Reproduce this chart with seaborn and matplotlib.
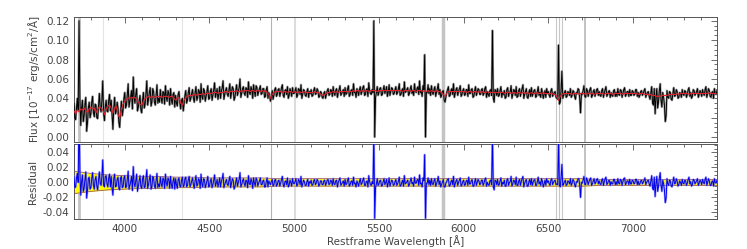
import numpy as np
import seaborn as sns
import matplotlib.pyplot as plt
from matplotlib.ticker import MultipleLocator, FormatStrFormatter

# observed flux, read off the plot (10^-17 erg/s/cm2/A)
# flux_a: pixels at 3700, 3710, ... ; flux_b: pixels at 3705, 3715, ...
flux_a = [
    0.035, 0.018, 0.040, 0.120, 0.012, 0.038, 0.022, 0.041, 0.015, 0.036,
    0.024, 0.042, 0.021, 0.033, 0.019, 0.045, 0.026, 0.058, 0.017, 0.038,
    0.026, 0.044, 0.038, 0.008, 0.041, 0.027, 0.030, 0.010, 0.037, 0.028,
    0.046, 0.033, 0.055, 0.037, 0.048, 0.062, 0.035, 0.050, 0.031, 0.043,
    0.025, 0.046, 0.034, 0.058, 0.039, 0.051, 0.036, 0.047, 0.033, 0.054,
    0.040, 0.049, 0.035, 0.046, 0.053, 0.037, 0.045, 0.050, 0.034, 0.046,
    0.043, 0.032, 0.047, 0.029, 0.040, 0.034, 0.048, 0.038, 0.051, 0.040,
    0.049, 0.036, 0.052, 0.041, 0.047, 0.055, 0.039, 0.048, 0.042, 0.053,
    0.040, 0.050, 0.043, 0.056, 0.045, 0.039, 0.052, 0.047, 0.058, 0.044,
    0.051, 0.042, 0.055, 0.046, 0.050, 0.041, 0.054, 0.047, 0.060, 0.045,
    0.052, 0.043, 0.050, 0.057, 0.044, 0.049, 0.054, 0.042, 0.051, 0.047,
    0.053, 0.045, 0.050, 0.042, 0.052, 0.046, 0.037, 0.048, 0.043, 0.051,
    0.044, 0.050, 0.046, 0.054, 0.041, 0.049, 0.052, 0.043, 0.047, 0.051,
    0.045, 0.051, 0.043, 0.049, 0.054, 0.044, 0.048, 0.042, 0.050, 0.047,
    0.049, 0.043, 0.051, 0.045, 0.048, 0.042, 0.046, 0.040, 0.047, 0.044,
    0.050, 0.044, 0.048, 0.052, 0.043, 0.050, 0.046, 0.053, 0.045, 0.049,
    0.051, 0.045, 0.053, 0.044, 0.049, 0.055, 0.046, 0.050, 0.043, 0.052,
    0.047, 0.053, 0.044, 0.050, 0.056, 0.045, 0.049, 0.120, 0.041, 0.052,
    0.046, 0.051, 0.044, 0.053, 0.048, 0.042, 0.054, 0.047, 0.050, 0.045,
    0.052, 0.046, 0.055, 0.044, 0.050, 0.057, 0.047, 0.051, 0.045, 0.053,
    0.048, 0.055, 0.046, 0.052, 0.058, 0.047, 0.053, 0.085, 0.046, 0.054,
    0.050, 0.053, 0.044, 0.052, 0.046, 0.055, 0.049, 0.043, 0.048, 0.036,
    0.046, 0.052, 0.043, 0.050, 0.055, 0.045, 0.051, 0.047, 0.053, 0.044,
    0.050, 0.044, 0.049, 0.054, 0.045, 0.050, 0.042, 0.052, 0.046, 0.049,
    0.044, 0.050, 0.045, 0.052, 0.047, 0.042, 0.049, 0.110, 0.036, 0.048,
    0.050, 0.043, 0.052, 0.046, 0.048, 0.041, 0.051, 0.046, 0.053, 0.044,
    0.048, 0.052, 0.042, 0.050, 0.046, 0.054, 0.044, 0.050, 0.040, 0.049,
    0.051, 0.045, 0.049, 0.042, 0.052, 0.046, 0.050, 0.040, 0.048, 0.050,
    0.047, 0.041, 0.050, 0.044, 0.047, 0.040, 0.095, 0.036, 0.068, 0.043,
    0.048, 0.042, 0.046, 0.050, 0.043, 0.047, 0.039, 0.045, 0.049, 0.025,
    0.044, 0.053, 0.041, 0.048, 0.046, 0.051, 0.043, 0.049, 0.045, 0.050,
    0.047, 0.042, 0.050, 0.045, 0.052, 0.044, 0.048, 0.046, 0.042, 0.049,
    0.046, 0.050, 0.043, 0.048, 0.045, 0.051, 0.044, 0.047, 0.049, 0.043,
    0.047, 0.044, 0.049, 0.046, 0.043, 0.048, 0.045, 0.050, 0.044, 0.047,
    0.039, 0.052, 0.033, 0.024, 0.050, 0.036, 0.055, 0.031, 0.041, 0.016,
    0.048, 0.040, 0.046, 0.038, 0.051, 0.043, 0.047, 0.041, 0.045, 0.049,
    0.043, 0.047, 0.044, 0.051, 0.046, 0.042, 0.048, 0.045, 0.050, 0.044,
    0.046, 0.049, 0.043, 0.052, 0.045, 0.048, 0.041, 0.047, 0.050, 0.044,
]
flux_b = [
    0.020, 0.030, 0.028, 0.040, 0.030, 0.016, 0.034, 0.006, 0.030, 0.020,
    0.036, 0.025, 0.034, 0.020, 0.032, 0.030, 0.038, 0.024, 0.031, 0.027,
    0.038, 0.027, 0.022, 0.030, 0.024, 0.036, 0.015, 0.026, 0.022, 0.040,
    0.030, 0.044, 0.031, 0.042, 0.029, 0.040, 0.044, 0.027, 0.038, 0.028,
    0.038, 0.030, 0.045, 0.033, 0.046, 0.032, 0.050, 0.036, 0.044, 0.035,
    0.036, 0.040, 0.047, 0.034, 0.041, 0.048, 0.033, 0.039, 0.044, 0.031,
    0.035, 0.044, 0.036, 0.038, 0.027, 0.043, 0.035, 0.046, 0.037, 0.045,
    0.040, 0.046, 0.038, 0.049, 0.036, 0.042, 0.050, 0.037, 0.047, 0.039,
    0.047, 0.038, 0.049, 0.041, 0.050, 0.044, 0.040, 0.051, 0.039, 0.048,
    0.044, 0.049, 0.040, 0.052, 0.038, 0.048, 0.043, 0.051, 0.041, 0.050,
    0.045, 0.051, 0.041, 0.046, 0.052, 0.040, 0.047, 0.053, 0.043, 0.050,
    0.044, 0.050, 0.041, 0.049, 0.040, 0.043, 0.041, 0.039, 0.049, 0.042,
    0.049, 0.042, 0.051, 0.043, 0.048, 0.044, 0.040, 0.050, 0.042, 0.045,
    0.048, 0.041, 0.050, 0.044, 0.040, 0.049, 0.043, 0.047, 0.041, 0.045,
    0.042, 0.048, 0.044, 0.050, 0.041, 0.047, 0.041, 0.045, 0.040, 0.048,
    0.043, 0.049, 0.042, 0.045, 0.048, 0.041, 0.049, 0.043, 0.047, 0.042,
    0.044, 0.050, 0.042, 0.048, 0.043, 0.046, 0.041, 0.047, 0.049, 0.044,
    0.051, 0.043, 0.049, 0.042, 0.048, 0.044, 0.046, 0.000, 0.046, 0.043,
    0.050, 0.043, 0.049, 0.045, 0.052, 0.047, 0.043, 0.051, 0.044, 0.049,
    0.044, 0.050, 0.043, 0.048, 0.042, 0.046, 0.049, 0.043, 0.050, 0.045,
    0.043, 0.047, 0.050, 0.044, 0.046, 0.042, 0.049, 0.000, 0.046, 0.045,
    0.043, 0.046, 0.049, 0.042, 0.050, 0.044, 0.041, 0.047, 0.038, 0.041,
    0.049, 0.042, 0.048, 0.044, 0.041, 0.049, 0.043, 0.050, 0.042, 0.048,
    0.043, 0.049, 0.042, 0.045, 0.049, 0.041, 0.048, 0.043, 0.050, 0.044,
    0.049, 0.043, 0.050, 0.041, 0.044, 0.048, 0.043, 0.040, 0.049, 0.043,
    0.042, 0.048, 0.041, 0.044, 0.040, 0.049, 0.042, 0.047, 0.040, 0.049,
    0.043, 0.041, 0.048, 0.042, 0.050, 0.040, 0.047, 0.041, 0.046, 0.042,
    0.042, 0.048, 0.041, 0.047, 0.043, 0.041, 0.046, 0.044, 0.041, 0.045,
    0.043, 0.048, 0.042, 0.046, 0.041, 0.039, 0.034, 0.048, 0.040, 0.046,
    0.041, 0.047, 0.043, 0.041, 0.048, 0.042, 0.046, 0.050, 0.040, 0.045,
    0.048, 0.042, 0.050, 0.042, 0.049, 0.041, 0.047, 0.042, 0.049, 0.043,
    0.043, 0.048, 0.041, 0.049, 0.042, 0.047, 0.041, 0.043, 0.048, 0.042,
    0.042, 0.044, 0.049, 0.041, 0.049, 0.042, 0.047, 0.042, 0.043, 0.048,
    0.043, 0.049, 0.042, 0.041, 0.047, 0.043, 0.048, 0.041, 0.046, 0.042,
    0.046, 0.035, 0.050, 0.041, 0.030, 0.048, 0.038, 0.046, 0.033, 0.022,
    0.041, 0.047, 0.039, 0.045, 0.042, 0.049, 0.040, 0.046, 0.041, 0.044,
    0.048, 0.041, 0.049, 0.042, 0.040, 0.049, 0.043, 0.047, 0.041, 0.048,
    0.042, 0.045, 0.049, 0.041, 0.050, 0.042, 0.046, 0.040, 0.045, 0.048,
]

# stellar population model (red line), one value per 10 A bin starting at 3700
model = [
    0.027, 0.024, 0.028, 0.026, 0.029, 0.028, 0.030, 0.027, 0.025, 0.029,
    0.031, 0.029, 0.030, 0.025, 0.029, 0.031, 0.030, 0.028, 0.023, 0.029,
    0.032, 0.033, 0.030, 0.025, 0.030, 0.032, 0.023, 0.020, 0.029, 0.034,
    0.037, 0.039, 0.040, 0.041, 0.040, 0.041, 0.041, 0.039, 0.036, 0.034,
    0.033, 0.037, 0.040, 0.041, 0.042, 0.041, 0.042, 0.041, 0.041, 0.042,
    0.042, 0.042, 0.041, 0.042, 0.042, 0.042, 0.041, 0.042, 0.042, 0.040,
    0.038, 0.040, 0.041, 0.035, 0.033, 0.038, 0.041, 0.042, 0.043, 0.043,
    0.043, 0.044, 0.043, 0.044, 0.044, 0.044, 0.045, 0.044, 0.045, 0.045,
    0.045, 0.045, 0.046, 0.046, 0.046, 0.045, 0.046, 0.046, 0.046, 0.047,
    0.047, 0.046, 0.047, 0.047, 0.047, 0.047, 0.048, 0.047, 0.047, 0.048,
    0.047, 0.048, 0.048, 0.048, 0.047, 0.048, 0.048, 0.047, 0.048, 0.048,
    0.047, 0.048, 0.047, 0.048, 0.046, 0.044, 0.040, 0.044, 0.046, 0.047,
    0.047, 0.047, 0.047, 0.046, 0.047, 0.047, 0.046, 0.047, 0.047, 0.046,
    0.047, 0.046, 0.046, 0.047, 0.046, 0.046, 0.047, 0.046, 0.046, 0.046,
    0.046, 0.046, 0.047, 0.046, 0.046, 0.045, 0.044, 0.043, 0.044, 0.045,
    0.046, 0.046, 0.046, 0.047, 0.046, 0.047, 0.046, 0.047, 0.047, 0.047,
    0.047, 0.047, 0.047, 0.047, 0.047, 0.048, 0.047, 0.048, 0.048, 0.047,
    0.048, 0.047, 0.048, 0.048, 0.047, 0.048, 0.048, 0.048, 0.048, 0.047,
    0.048, 0.048, 0.048, 0.048, 0.048, 0.048, 0.048, 0.048, 0.048, 0.048,
    0.048, 0.048, 0.048, 0.048, 0.047, 0.048, 0.048, 0.048, 0.048, 0.047,
    0.048, 0.048, 0.047, 0.048, 0.048, 0.048, 0.047, 0.048, 0.047, 0.048,
    0.047, 0.048, 0.047, 0.047, 0.048, 0.047, 0.047, 0.046, 0.044, 0.042,
    0.045, 0.047, 0.047, 0.047, 0.047, 0.047, 0.047, 0.047, 0.047, 0.047,
    0.047, 0.047, 0.046, 0.047, 0.047, 0.046, 0.047, 0.047, 0.046, 0.047,
    0.046, 0.047, 0.046, 0.046, 0.047, 0.046, 0.046, 0.046, 0.046, 0.046,
    0.046, 0.046, 0.046, 0.046, 0.045, 0.046, 0.046, 0.046, 0.045, 0.046,
    0.046, 0.045, 0.046, 0.046, 0.045, 0.046, 0.045, 0.046, 0.045, 0.045,
    0.046, 0.045, 0.045, 0.046, 0.045, 0.045, 0.045, 0.046, 0.045, 0.045,
    0.045, 0.045, 0.045, 0.044, 0.044, 0.042, 0.038, 0.042, 0.044, 0.045,
    0.045, 0.045, 0.045, 0.045, 0.044, 0.045, 0.045, 0.045, 0.044, 0.045,
    0.045, 0.045, 0.044, 0.045, 0.045, 0.045, 0.045, 0.044, 0.045, 0.045,
    0.045, 0.045, 0.045, 0.044, 0.045, 0.045, 0.045, 0.045, 0.044, 0.045,
    0.045, 0.045, 0.045, 0.045, 0.044, 0.045, 0.045, 0.045, 0.045, 0.045,
    0.045, 0.045, 0.045, 0.044, 0.045, 0.045, 0.045, 0.044, 0.044, 0.044,
    0.044, 0.043, 0.043, 0.043, 0.042, 0.042, 0.042, 0.043, 0.043, 0.043,
    0.043, 0.044, 0.044, 0.044, 0.044, 0.044, 0.045, 0.044, 0.045, 0.045,
    0.045, 0.045, 0.045, 0.044, 0.045, 0.045, 0.045, 0.045, 0.045, 0.045,
    0.045, 0.045, 0.045, 0.045, 0.045, 0.046, 0.045, 0.045, 0.045, 0.045,
]

# flux error (yellow band in residual panel), every 100 A
err = [0.015, 0.012, 0.010, 0.009, 0.008, 0.008, 0.007, 0.007, 0.006, 0.006,
       0.006, 0.006, 0.005, 0.005, 0.005, 0.005, 0.005, 0.005, 0.005, 0.005,
       0.005, 0.005, 0.005, 0.005, 0.005, 0.005, 0.005, 0.005, 0.005, 0.005,
       0.005, 0.004, 0.004, 0.004, 0.004, 0.004, 0.004, 0.004, 0.004]

# emission line markers
line_wave = [3727, 3869, 4340, 4861, 5007, 5876, 6548, 6563, 6583, 6717]
line_color = ['#c4c4c4', '#e4e4e4', '#e4e4e4', '#b4b4b4', '#dcdcdc',
              '#c4c4c4', '#c8c8c8', '#c8c8c8', '#c8c8c8', '#b8b8b8']
line_width = [2.0, 0.8, 0.8, 0.8, 1.5, 2.5, 0.8, 0.8, 0.8, 1.2]

wave_model = np.arange(3700, 7500, 10)
wave = np.arange(3700, 7500, 5)
err_wave = np.arange(3700, 7501, 100)

flux = np.column_stack([flux_a, flux_b]).ravel()
model = np.array(model)
resid = flux - np.repeat(model, 2)
err = np.array(err)

sns.set_style('white')
plt.rcParams['font.family'] = ['DejaVu Sans']
txt = '#444444'

fig = plt.figure(figsize=(7.47, 2.49), dpi=100)
ax1 = fig.add_axes([0.099, 0.430, 0.861, 0.502])
ax2 = fig.add_axes([0.099, 0.120, 0.861, 0.301])

for ax in (ax1, ax2):
    for w, c, lw in zip(line_wave, line_color, line_width):
        ax.axvline(w, color=c, lw=lw, zorder=1)

# top panel: spectrum + model
sns.lineplot(x=wave, y=flux, ax=ax1, color='#a0a0a0', lw=1.6, estimator=None, sort=False, zorder=2)
sns.lineplot(x=wave, y=flux, ax=ax1, color='black', lw=0.7, estimator=None, sort=False, zorder=3)
sns.lineplot(x=wave_model, y=model, ax=ax1, color='#e0202a', lw=0.8, estimator=None, sort=False, zorder=4)

# bottom panel: residuals
ax2.fill_between(err_wave, -err, err, color='#ffff00', lw=0, zorder=2)
sns.lineplot(x=err_wave, y=err, ax=ax2, color='#a0525a', lw=0.6, estimator=None, zorder=2)
sns.lineplot(x=err_wave, y=-err, ax=ax2, color='#a0525a', lw=0.6, estimator=None, zorder=2)
sns.lineplot(x=wave, y=resid, ax=ax2, color='#7b7bff', lw=1.6, alpha=0.6, estimator=None, sort=False, zorder=3)
sns.lineplot(x=wave, y=resid, ax=ax2, color='#0000ee', lw=0.7, estimator=None, sort=False, zorder=4)

ax1.set_ylim(-0.005, 0.124)
ax2.set_ylim(-0.049, 0.051)
for ax in (ax1, ax2):
    ax.set_xlim(3700, 7496)
    ax.xaxis.set_major_locator(MultipleLocator(500))
    ax.xaxis.set_minor_locator(MultipleLocator(100))
    ax.yaxis.set_major_locator(MultipleLocator(0.02))
    ax.yaxis.set_minor_locator(MultipleLocator(0.005))
    ax.yaxis.set_major_formatter(FormatStrFormatter('%.2f'))
    ax.tick_params(which='both', direction='in', top=True, right=True,
                   colors='#555555', labelcolor=txt, labelsize=7.5)
    ax.tick_params(which='major', length=4, width=0.6)
    ax.tick_params(which='minor', length=2, width=0.6)
    for s in ax.spines.values():
        s.set_color('#555555')
        s.set_linewidth(0.7)

ax1.tick_params(labelbottom=False)

ax1.set_ylabel('Flux [10$^{-17}$ erg/s/cm$^2$/Å]', fontsize=7.5, color=txt, labelpad=3)
ax2.set_ylabel('Residual', fontsize=7.5, color=txt, labelpad=3)
ax2.set_xlabel('Restframe Wavelength [Å]', fontsize=7.5, color=txt, labelpad=1)
ax1.set_xlabel('')

fig.savefig('out.png', dpi=100)
